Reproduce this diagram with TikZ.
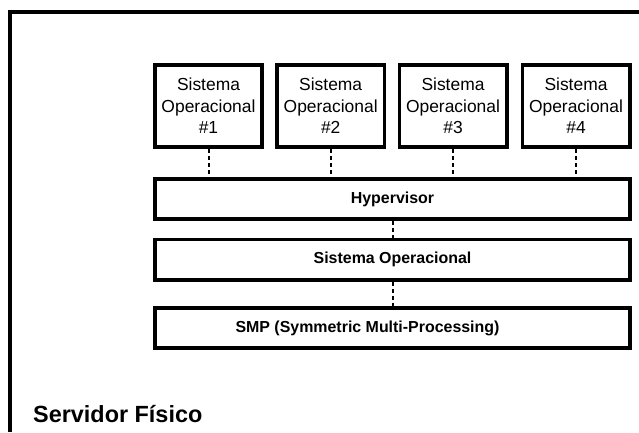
\documentclass[tikz,border=0pt]{standalone}
\usepackage{fontspec}
\setmainfont{Liberation Sans}

\begin{document}
\begin{tikzpicture}[x=1bp, y=-1bp,
    osbox/.style={draw, line width=3.6bp, minimum width=107.4bp, minimum height=82.4bp,
      inner sep=0pt, align=center, font=\fontsize{17.5}{21.5}\selectfont},
    layer/.style={draw, line width=3.6bp, minimum width=475.4bp, minimum height=40.4bp,
      inner sep=0pt, font=\fontsize{16}{19}\selectfont\bfseries},
    link/.style={line width=2bp, dash pattern=on 4bp off 3bp}]
  \useasboundingbox (0,0) rectangle (639,432);

  % outer frame of the physical server
  \draw [line width=4bp] (10,432) |- (639,11.5);

  \foreach \i/\x in {1/208.5, 2/330.7, 3/453, 4/576}
    \node [osbox] (os\i) at (\x,106) {Sistema\\Operacional\\\#\i};

  \node [layer] (hyp) at (392.5,199) {Hypervisor};
  \node [layer] (hostos) at (392.5,259.5) {Sistema Operacional};
  \node [layer, label={[xshift=-25bp, font=\fontsize{16}{19}\selectfont\bfseries]center:SMP (Symmetric Multi-Processing)}] (smp) at (392.5,328) {};

  \foreach \i in {1,...,4}
    \draw [link] (os\i.south) -- (os\i.south |- hyp.north);
  \draw [link] (hyp.south) -- (hostos.north);
  \draw [link] (hostos.south) -- (smp.north);

  \node [anchor=base west, inner sep=0pt, font=\fontsize{23.5}{28}\selectfont\bfseries] (server) at (33,422) {Servidor Físico};
\end{tikzpicture}
\end{document}
